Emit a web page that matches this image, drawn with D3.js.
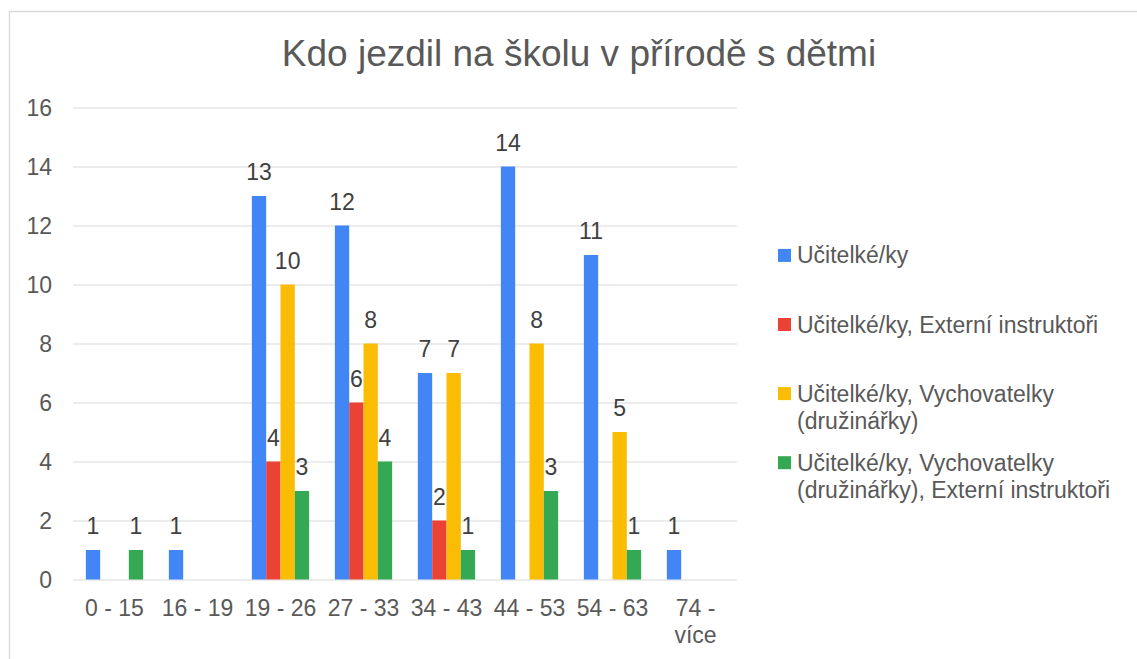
<!DOCTYPE html>
<html>
<head>
<meta charset="utf-8">
<script src="https://cdn.jsdelivr.net/npm/d3@7"></script>
<style>
	body { margin: 0; background: #fff; }
	text { font-family: "Liberation Sans", Arial, sans-serif; }
	.axis .domain { display: none; }
	.axis--y line { stroke: #d9d9d9; }
	.axis text { fill: #595959; font-size: 23px; }
</style>
</head>
<body>
<script>
// chart data
var categories = ["0 - 15", "16 - 19", "19 - 26", "27 - 33", "34 - 43", "44 - 53", "54 - 63", "74 - více"];
var seriesNames = [
	"Učitelké/ky",
	"Učitelké/ky, Externí instruktoři",
	"Učitelké/ky, Vychovatelky (družinářky)",
	"Učitelké/ky, Vychovatelky (družinářky), Externí instruktoři"
];
var ucitelky = [1, 1, 13, 12, 7, 14, 11, 1];
var ucitelkyExterni = [0, 0, 4, 6, 2, 0, 0, 0];
var ucitelkyVychovatelky = [0, 0, 10, 8, 7, 8, 5, 0];
var ucitelkyVychovatelkyExterni = [1, 0, 3, 4, 1, 3, 1, 0];
var yTicks = [0, 2, 4, 6, 8, 10, 12, 14, 16];
var title = "Kdo jezdil na školu v přírodě s dětmi";

var colors = ["#4285f4", "#ea4335", "#fbbc04", "#34a853"];
var seriesValues = [ucitelky, ucitelkyExterni, ucitelkyVychovatelky, ucitelkyVychovatelkyExterni];

var svgWidth = 1137;
var svgHeight = 659;
var plot = {left: 73, right: 737, top: 107.5, bottom: 579.5};

var svg = d3.select("body")
			.append("svg")
				.attr("width", svgWidth)
				.attr("height", svgHeight);

//chart frame, only top and left edges are visible
svg.append("path")
	.attr("d", "M9.5," + svgHeight + "V11.5H" + svgWidth)
	.attr("fill", "none")
	.attr("stroke", "#d9d9d9")
	.attr("stroke-width", 1.3);

svg.append("text")
	.attr("x", 579)
	.attr("y", 66)
	.attr("text-anchor", "middle")
	.attr("fill", "#595959")
	.style("font-size", "37px")
	.text(title);

var x0 = d3.scaleBand()
			.domain(categories)
			.range([plot.left, plot.right])
			.paddingInner(0.31)
			.paddingOuter(0.155);
var x1 = d3.scaleBand()
			.domain(d3.range(seriesNames.length))
			.range([0, x0.bandwidth()]);
var yScale = d3.scaleLinear()
			.domain([0, 16])
			.range([plot.bottom, plot.top]);

//gridlines + y labels
svg.append("g")
	.attr("class", "axis axis--y")
	.attr("transform", "translate(" + plot.left + ",0)")
	.call(d3.axisLeft(yScale).tickValues(yTicks).tickSize(-(plot.right - plot.left)).tickPadding(21))
	.selectAll("text").attr("dy", "0.35em");

var xAxis = svg.append("g")
	.attr("class", "axis axis--x")
	.attr("transform", "translate(0," + plot.bottom + ")")
	.call(d3.axisBottom(x0).tickSize(0).tickPadding(20));
xAxis.selectAll("text").call(wrap, x0.step(), 0.71);

//bars
var groups = svg.append("g")
	.selectAll("g")
	.data(categories)
	.enter().append("g")
		.attr("transform", function(d){ return "translate(" + x0(d) + ",0)"; });

var cells = groups.selectAll("g")
	.data(function(d, i){
		return seriesValues.map(function(vals, s){ return {series: s, value: vals[i]}; });
	})
	.enter().append("g")
		.filter(function(d){ return d.value > 0; });

cells.append("rect")
	.attr("x", function(d){ return x1(d.series); })
	.attr("width", x1.bandwidth())
	.attr("y", function(d){ return yScale(d.value); })
	.attr("height", function(d){ return yScale(0) - yScale(d.value); })
	.attr("fill", function(d){ return colors[d.series]; });

cells.append("text")
	.attr("x", function(d){ return x1(d.series) + x1.bandwidth() / 2; })
	.attr("y", function(d){ return yScale(d.value) - 16; })
	.attr("text-anchor", "middle")
	.attr("fill", "#404040")
	.style("font-size", "23px")
	.text(function(d){ return d.value; });

//legend
var legend = svg.append("g")
	.selectAll("g")
	.data(seriesNames)
	.enter().append("g")
		.attr("transform", function(d, i){ return "translate(778," + (255.4 + i * 69.1) + ")"; });

legend.append("rect")
	.attr("x", 0)
	.attr("y", -6.5)
	.attr("width", 13)
	.attr("height", 13)
	.attr("fill", function(d, i){ return colors[i]; });

legend.append("text")
	.attr("x", 19)
	.attr("y", 0)
	.attr("dy", "0.35em")
	.attr("fill", "#595959")
	.style("font-size", "23px")
	.text(function(d){ return d; })
	.call(wrap, 330, 0.35);

//word wrap, bostock style
function wrap(texts, width, dy0){
	texts.each(function(){
		var text = d3.select(this),
			words = text.text().split(/\s+/).reverse(),
			word,
			line = [],
			lineNumber = 0,
			lineHeight = 1.2,
			x = text.attr("x") || 0,
			y = text.attr("y") || 0,
			tspan = text.text(null).append("tspan").attr("x", x).attr("y", y).attr("dy", dy0 + "em");
		while(word = words.pop()){
			line.push(word);
			tspan.text(line.join(" "));
			if(tspan.node().getComputedTextLength() > width && line.length > 1){
				line.pop();
				tspan.text(line.join(" "));
				line = [word];
				tspan = text.append("tspan").attr("x", x).attr("y", y)
						.attr("dy", (++lineNumber * lineHeight + dy0) + "em")
						.text(word);
			}
		}
	});
}
</script>
</body>
</html>
